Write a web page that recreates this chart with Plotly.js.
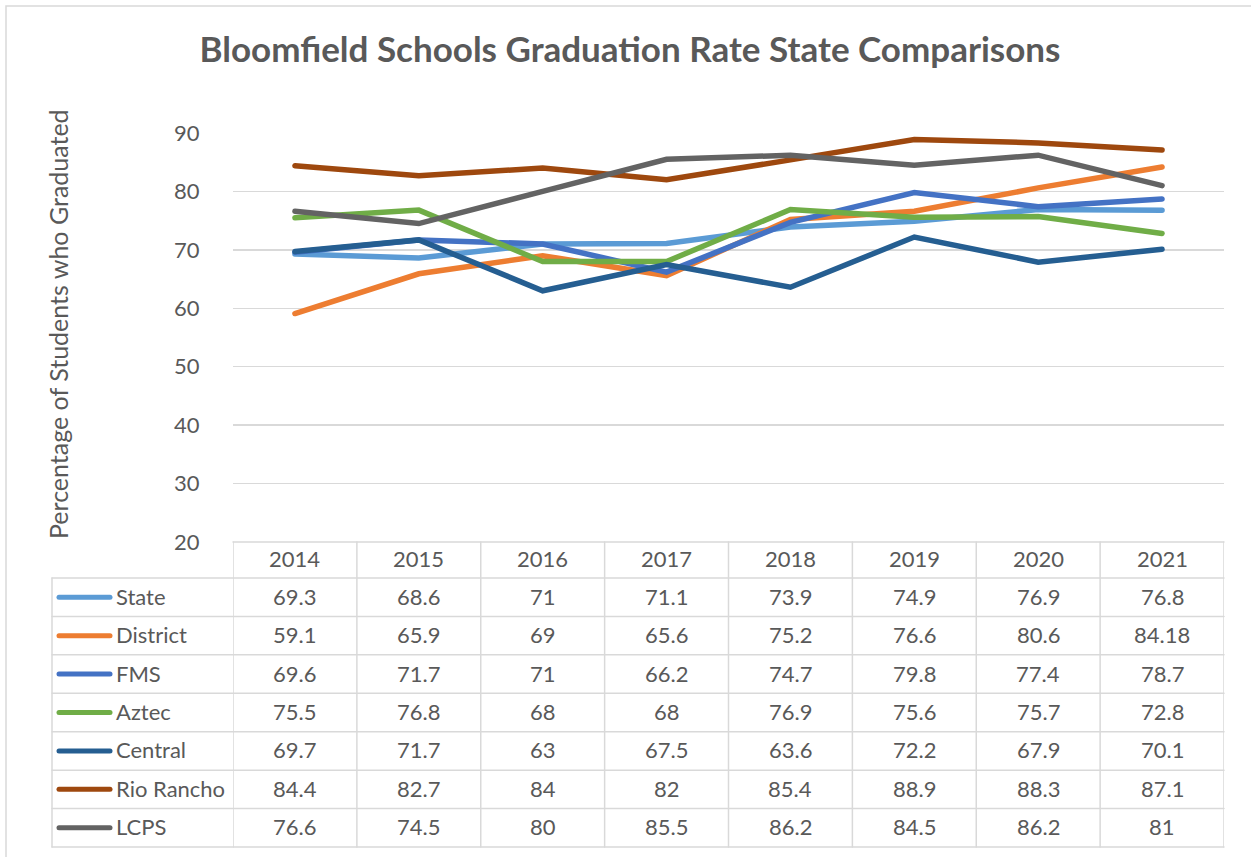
<!DOCTYPE html>
<html>
<head>
<meta charset="utf-8">
<script src="https://cdn.plot.ly/plotly-3.0.1.min.js"></script>
<style>
html,body{margin:0;padding:0;background:#fff;}
#chart{width:1251px;height:857px;}
.js-line{stroke-linecap:round;}
.shapelayer path{stroke-linecap:round;}
</style>
</head>
<body>
<div id="chart"></div>
<script>
const years = ['2014','2015','2016','2017','2018','2019','2020','2021'];
const seriesNames = ['State','District','FMS','Aztec','Central','Rio Rancho','LCPS'];
const state    = [69.3, 68.6, 71, 71.1, 73.9, 74.9, 76.9, 76.8];
const district = [59.1, 65.9, 69, 65.6, 75.2, 76.6, 80.6, 84.18];
const fms      = [69.6, 71.7, 71, 66.2, 74.7, 79.8, 77.4, 78.7];
const aztec    = [75.5, 76.8, 68, 68, 76.9, 75.6, 75.7, 72.8];
const central  = [69.7, 71.7, 63, 67.5, 63.6, 72.2, 67.9, 70.1];
const rioRancho= [84.4, 82.7, 84, 82, 85.4, 88.9, 88.3, 87.1];
const lcps     = [76.6, 74.5, 80, 85.5, 86.2, 84.5, 86.2, 81];
const yTicks   = [20, 30, 40, 50, 60, 70, 80, 90];

const seriesValues = [state, district, fms, aztec, central, rioRancho, lcps];
const colors = ['#5B9BD5','#ED7D31','#4472C4','#70AD47','#255E91','#9E480E','#636363'];

const W = 1251, H = 857;
const L = 233, R = 1224, T = 133, B = 542;
const px2x = p => (p - L) / (R - L);
const py2y = p => (B - p) / (B - T);
const textColor = '#595959';
const gridColor = '#d9d9d9';
const FONT = 'Lato, "Open Sans", sans-serif';
const TFS = 22;

const traces = seriesNames.map((n, i) => ({
  type: 'scatter', mode: 'lines', name: n,
  x: years, y: seriesValues[i],
  line: {color: colors[i], width: 5.5},
  hoverinfo: 'x+y+name'
}));

const shapes = [];
const annotations = [];

// outer chart border
shapes.push({type:'rect', xref:'paper', yref:'paper', x0:px2x(6), x1:px2x(1262), y0:py2y(6), y1:py2y(870),
  line:{color:'#d9d9d9', width:1.5}, fillcolor:'rgba(0,0,0,0)', layer:'below'});

// table geometry
const headTop = 542, headBot = 578, rowH = (847 - 578) / 7, tableLeft = 52, tableBot = 847;
shapes.push({type:'line', xref:'paper', yref:'paper', x0:px2x(L), x1:px2x(R), y0:py2y(headTop), y1:py2y(headTop), line:{color:gridColor, width:1.5}});
for (let r = 0; r <= 7; r++) {
  const yy = headBot + r * rowH;
  shapes.push({type:'line', xref:'paper', yref:'paper', x0:px2x(tableLeft), x1:px2x(R), y0:py2y(yy), y1:py2y(yy), line:{color:gridColor, width:1.5}});
}
shapes.push({type:'line', xref:'paper', yref:'paper', x0:px2x(tableLeft), x1:px2x(tableLeft), y0:py2y(headBot), y1:py2y(tableBot), line:{color:gridColor, width:1.5}});
for (let c = 0; c <= years.length; c++) {
  shapes.push({type:'line', xref:'x', yref:'paper', x0:c - 0.5, x1:c - 0.5, y0:py2y(headTop), y1:py2y(tableBot), line:{color:gridColor, width:1.5}});
}

// header years (category axis: annotation x is the category index)
years.forEach((yr, j) => {
  annotations.push({xref:'x', yref:'paper', x:j, y:py2y((headTop + headBot) / 2 - 1.5), text:yr, showarrow:false,
    xanchor:'center', yanchor:'middle', font:{family:FONT, size:TFS, color:textColor}});
});
// rows
seriesNames.forEach((n, i) => {
  const cy = headBot + rowH * (i + 0.5);
  shapes.push({type:'line', xref:'paper', yref:'paper', x0:px2x(59), x1:px2x(110), y0:py2y(cy), y1:py2y(cy), line:{color:colors[i], width:5}});
  annotations.push({xref:'paper', yref:'paper', x:px2x(114), y:py2y(cy - 1), text:n, showarrow:false,
    xanchor:'left', yanchor:'middle', font:{family:FONT, size:TFS, color:textColor}});
  seriesValues[i].forEach((v, j) => {
    annotations.push({xref:'x', yref:'paper', x:j, y:py2y(cy - 1), text:String(v), showarrow:false,
      xanchor:'center', yanchor:'middle', font:{family:FONT, size:TFS, color:textColor}});
  });
});

// y-axis title
annotations.push({xref:'paper', yref:'paper', x:px2x(58), y:py2y(324), text:'Percentage of Students who Graduated',
  textangle:-90, showarrow:false, xanchor:'center', yanchor:'middle', font:{family:FONT, size:25, color:textColor}});

const layout = {
  width: W, height: H,
  margin: {l: L, r: W - R, t: T, b: H - B, pad: 0},
  paper_bgcolor: '#fff', plot_bgcolor: '#fff',
  showlegend: false,
  title: {text: 'Bloomfield Schools Graduation Rate State Comparisons',
    x: 630 / W, xanchor: 'center', y: 1 - 50 / H, yanchor: 'middle',
    font: {family: FONT, size: 35, color: textColor, weight: 'bold'}},
  xaxis: {type: 'category', range: [-0.5, 7.5], showticklabels: false, showgrid: false, zeroline: false, showline: false, ticks: '', fixedrange: true},
  yaxis: {range: [20, 90], tickvals: yTicks, ticktext: yTicks.map(String), showgrid: true, gridcolor: gridColor, gridwidth: 1.5,
    zeroline: false, showline: false, ticks: 'outside', ticklen: 28, tickcolor: 'rgba(0,0,0,0)',
    tickfont: {family: FONT, size: TFS, color: textColor}, fixedrange: true},
  shapes: shapes,
  annotations: annotations
};

Plotly.newPlot('chart', traces, layout, {displayModeBar: false, staticPlot: true});
</script>
</body>
</html>
